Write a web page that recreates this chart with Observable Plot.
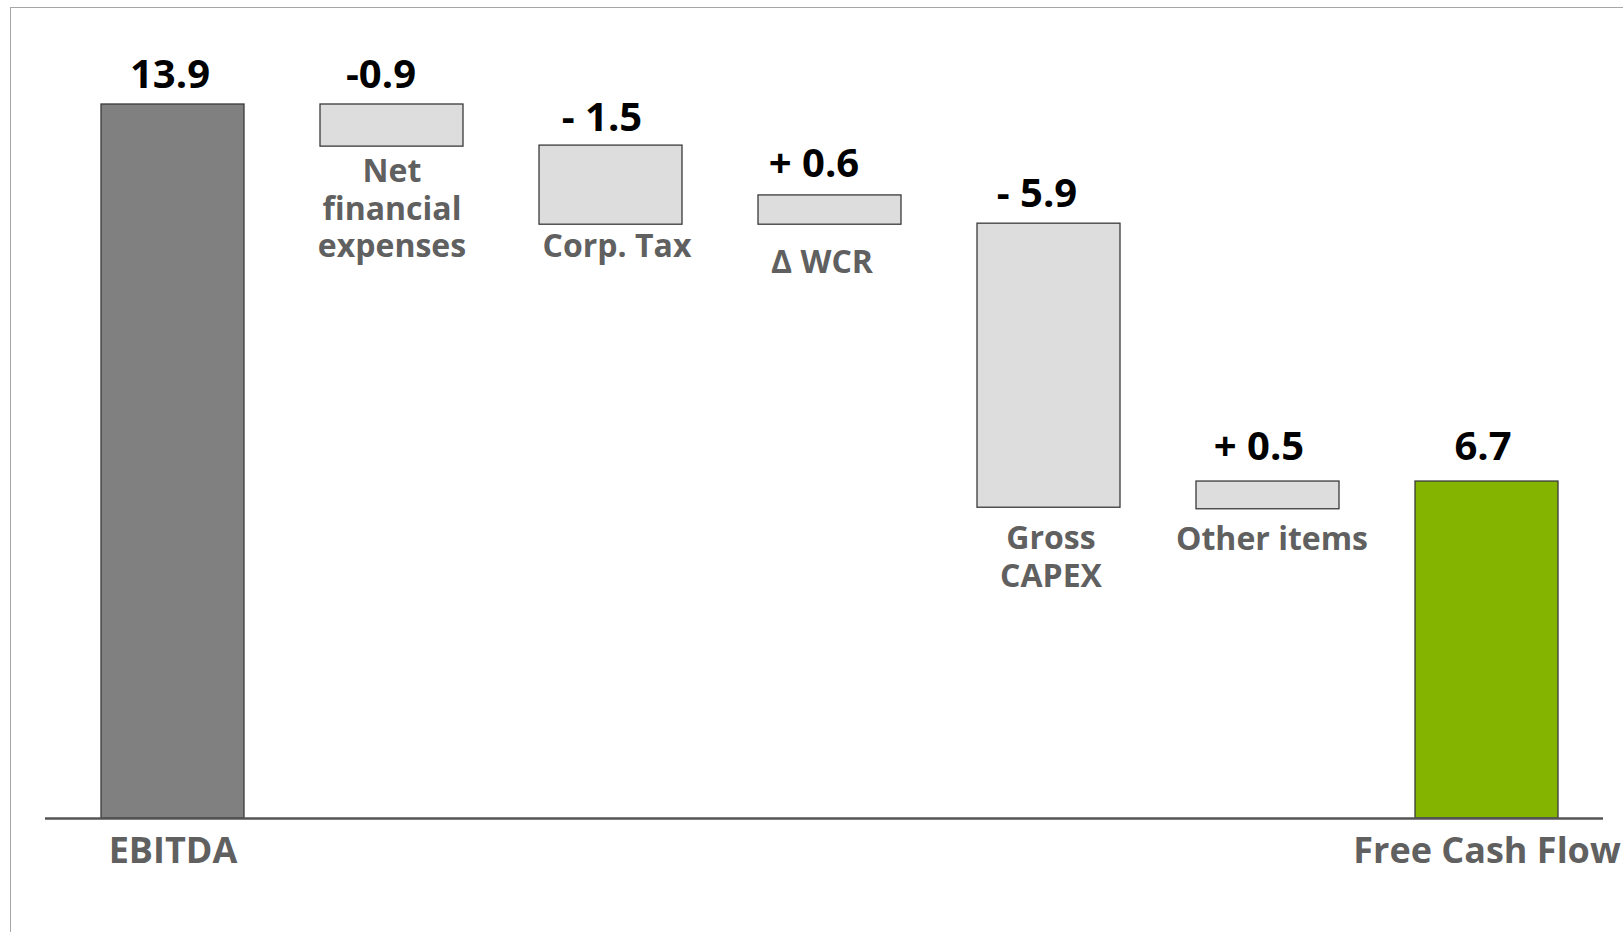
<!DOCTYPE html>
<html><head><meta charset="utf-8">
<script src="https://cdn.jsdelivr.net/npm/d3@7"></script>
<script src="https://cdn.jsdelivr.net/npm/@observablehq/plot@0.6"></script>
<style>
html,body{margin:0;padding:0;background:#fff;}
#wrap{position:relative;width:1623px;height:932px;overflow:hidden;background:#fff;}
#border{position:absolute;left:10px;top:7px;right:-5px;bottom:-5px;border-top:1.5px solid #a6a6a6;border-left:1.5px solid #a6a6a6;pointer-events:none;}
</style></head><body>
<div id="wrap"><div id="chart"></div><div id="border"></div></div>
<script>
// ---- data ----
const categories = ["EBITDA", "Net financial expenses", "Corp. Tax", "WCR", "Gross CAPEX", "Other items", "Free Cash Flow"];
const categoryLabels = ["EBITDA", "Net\nfinancial\nexpenses", "Corp. Tax", "∆ WCR", "Gross\nCAPEX", "Other items", "Free Cash Flow"];
const valueLabels = ["13.9", "-0.9", "- 1.5", "+ 0.6", "- 5.9", "+ 0.5", "6.7"];
const barLow  = [0,    13.08, 11.56, 11.56, 6.05,  6.02, 0];
const barHigh = [13.9, 13.9,  13.10, 12.13, 11.58, 6.56, 6.56];
const barKind = ["total", "delta", "delta", "delta", "delta", "delta", "result"];

const rows = categories.map((c, i) => ({
  cat: c, label: categoryLabels[i], value: valueLabels[i],
  low: barLow[i], high: barHigh[i], kind: barKind[i]
}));

// ---- styles ----
const FONT = "'Open Sans', 'DejaVu Sans', sans-serif";
const labelDy = {"Net financial expenses": 9, "Corp. Tax": 6, "WCR": 22, "Gross CAPEX": 15, "Other items": 14};
const labelDx = {"Net financial expenses": 0, "Corp. Tax": 6, "WCR": -8, "Gross CAPEX": 2, "Other items": 4};
const valueDy = {"EBITDA": -17, "Net financial expenses": -17, "Corp. Tax": -15, "WCR": -18, "Gross CAPEX": -17, "Other items": -22, "Free Cash Flow": -22};
const valueDx = {"EBITDA": -3, "Net financial expenses": -11, "Corp. Tax": -9, "WCR": -16, "Gross CAPEX": -12, "Other items": -9, "Free Cash Flow": -4};

const marks = [
  Plot.barY(rows, {x: "cat", y1: "low", y2: "high", fill: "kind", stroke: "#3a3a3a", strokeWidth: 1.3}),
  Plot.ruleY([0], {stroke: "#555", strokeWidth: 2.5}),
  // axis-like labels for totals
  Plot.text(rows.filter(d => d.kind !== "delta"), {x: "cat", y: 0, text: "label", lineAnchor: "top",
    dy: 19, fontSize: 36, fontWeight: "bold", fill: "#606060"})
];
for (const r of rows) {
  marks.push(Plot.text([r], {x: "cat", y: "high", text: "value", lineAnchor: "bottom",
    dy: valueDy[r.cat], dx: valueDx[r.cat], fontSize: 40, fontWeight: "bold", fill: "#000"}));
}
for (const r of rows.filter(d => d.kind === "delta")) {
  marks.push(Plot.text([r], {x: "cat", y: "low", text: "label", lineAnchor: "top",
    dy: labelDy[r.cat], dx: labelDx[r.cat], fontSize: 32, lineHeight: 1.17, fontWeight: "bold", fill: "#606060"}));
}

const chart = Plot.plot({
  width: 1623,
  height: 932,
  marginLeft: 45,
  marginRight: 20,
  marginTop: 0,
  marginBottom: 0,
  style: {fontFamily: FONT, background: "transparent"},
  x: {type: "band", domain: categories, range: [99, 1561], paddingInner: 0.345, paddingOuter: 0, axis: null},
  y: {domain: [0, 13.9], range: [818, 104], axis: null},
  color: {domain: ["total", "delta", "result"], range: ["#808080", "#dddddd", "#84b400"]},
  marks
});
document.getElementById("chart").appendChild(chart);
</script>
</body></html>
